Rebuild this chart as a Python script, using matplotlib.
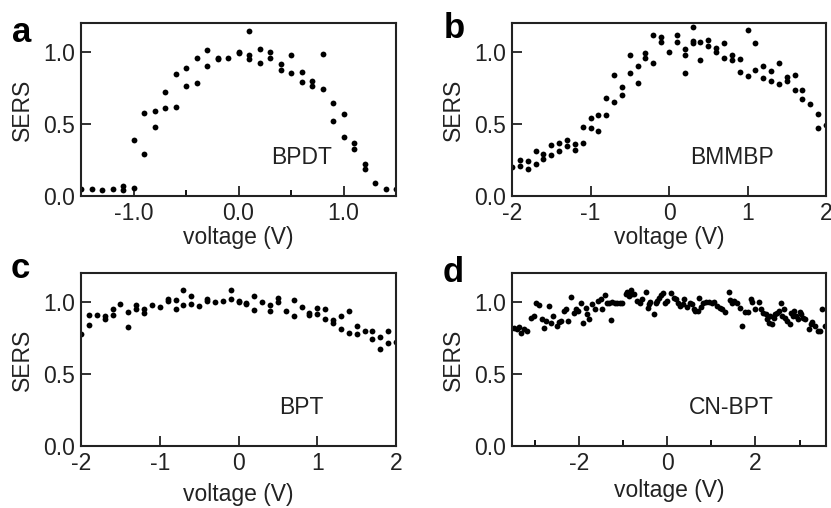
import matplotlib.pyplot as plt
import numpy as np

plt.rcParams['font.family'] = ['Liberation Sans', 'DejaVu Sans']

# panel a: BPDT
va = [-1.5, -1.4, -1.3, -1.2, -1.1, -1.1, -1.0, -1.0, -0.9, -0.9, -0.8, -0.8,
      -0.7, -0.7, -0.6, -0.6, -0.5, -0.5, -0.4, -0.4, -0.3, -0.3, -0.2, -0.2,
      -0.1, 0.0, 0.0, 0.1, 0.1, 0.1, 0.2, 0.2, 0.3, 0.3, 0.4, 0.4, 0.5, 0.5,
      0.6, 0.6, 0.7, 0.7, 0.8, 0.8, 0.9, 0.9, 1.0, 1.0, 1.1, 1.1, 1.2, 1.2,
      1.3, 1.4, 1.5]
sa = [0.05, 0.05, 0.045, 0.05, 0.07, 0.045, 0.39, 0.055, 0.575, 0.29, 0.59, 0.48,
      0.72, 0.61, 0.845, 0.62, 0.885, 0.765, 0.96, 0.785, 1.01, 0.90, 0.96, 0.947,
      0.96, 1.0, 0.995, 1.146, 0.977, 0.947, 1.023, 0.924, 1.0, 0.954, 0.919, 0.875,
      0.977, 0.854, 0.861, 0.794, 0.799, 0.764, 0.984, 0.741, 0.646, 0.521, 0.569,
      0.41, 0.37, 0.324, 0.22, 0.19, 0.093, 0.05, 0.05]

# panel b: BMMBP
vb = [-2.0, -1.9, -1.9, -1.8, -1.8, -1.7, -1.7, -1.6, -1.6, -1.5, -1.5, -1.4, -1.4,
      -1.3, -1.3, -1.2, -1.2, -1.1, -1.1, -1.0, -1.0, -0.9, -0.9, -0.8, -0.8,
      -0.7, -0.7, -0.6, -0.6, -0.5, -0.5, -0.4, -0.4, -0.3, -0.3, -0.2, -0.2,
      -0.1, -0.1, 0.0, 0.1, 0.1, 0.2, 0.2, 0.2, 0.3, 0.3, 0.3, 0.4, 0.4, 0.5, 0.5,
      0.6, 0.6, 0.7, 0.7, 0.8, 0.8, 0.9, 0.9, 1.0, 1.0, 1.1, 1.1, 1.2, 1.2,
      1.3, 1.3, 1.4, 1.4, 1.5, 1.5, 1.6, 1.6, 1.7, 1.7, 1.8, 1.9, 1.9, 2.0]
sb = [0.20, 0.25, 0.21, 0.24, 0.185, 0.31, 0.22, 0.29, 0.255, 0.354, 0.285, 0.37, 0.31,
      0.39, 0.345, 0.36, 0.32, 0.48, 0.37, 0.54, 0.47, 0.56, 0.45, 0.68, 0.56,
      0.836, 0.655, 0.757, 0.70, 0.977, 0.85, 0.903, 0.785, 0.99, 0.96, 1.116, 0.926,
      1.10, 1.067, 1.0, 1.116, 1.067, 1.023, 0.977, 0.854, 1.174, 1.072, 1.058, 1.07, 0.94,
      1.083, 1.037, 1.025, 1.0, 1.06, 0.96, 0.98, 0.94, 0.95, 0.86, 1.15, 0.83,
      1.06, 0.877, 0.90, 0.817, 0.87, 0.80, 0.924, 0.775, 0.826, 0.80, 0.84, 0.734,
      0.734, 0.676, 0.64, 0.567, 0.47, 0.493]

# panel c: BPT
vc = [-2.0, -1.9, -1.9, -1.8, -1.7, -1.7, -1.6, -1.6, -1.5, -1.4, -1.4, -1.3, -1.3,
      -1.2, -1.2, -1.1, -1.0, -0.9, -0.9, -0.8, -0.8, -0.7, -0.7, -0.6, -0.6, -0.5,
      -0.4, -0.4, -0.3, -0.2, -0.1, -0.1, 0.0, 0.0, 0.1, 0.1, 0.2, 0.2, 0.3, 0.4, 0.4,
      0.5, 0.5, 0.6, 0.7, 0.7, 0.8, 0.9, 0.9, 1.0, 1.0, 1.1, 1.1, 1.2, 1.2, 1.3, 1.3,
      1.4, 1.4, 1.5, 1.5, 1.6, 1.7, 1.7, 1.8, 1.8, 1.9, 1.9, 2.0]
sc = [0.78, 0.907, 0.837, 0.907, 0.90, 0.88, 0.95, 0.91, 0.984, 0.93, 0.826, 0.977, 0.953,
      0.953, 0.926, 0.977, 0.967, 1.02, 1.007, 1.01, 0.95, 1.084, 0.977, 1.037, 0.988, 0.972,
      1.023, 1.007, 1.0, 1.007, 1.084, 1.023, 1.007, 1.0, 0.995, 0.984, 1.04, 0.942, 1.0,
      0.977, 0.937, 1.026, 1.0, 0.937, 1.014, 0.902, 0.967, 0.92, 0.907, 0.96, 0.914,
      0.953, 0.88, 0.872, 0.851, 0.902, 0.81, 0.933, 0.786, 0.833, 0.774, 0.80, 0.80,
      0.744, 0.758, 0.674, 0.80, 0.716, 0.72]

# panel d: CN-BPT
vd = [-3.47, -3.41, -3.36, -3.31, -3.25, -3.17, -3.08, -3.02, -2.98, -2.91, -2.85, -2.79,
      -2.75, -2.68, -2.63, -2.58, -2.51, -2.45, -2.40, -2.34, -2.30, -2.26, -2.19, -2.11,
      -2.08, -2.02, -1.96, -1.90, -1.85, -1.81, -1.77, -1.70, -1.64, -1.58, -1.51, -1.47,
      -1.40, -1.36, -1.32, -1.28, -1.25, -1.19, -1.13, -1.07, -1.02, -0.94, -0.91, -0.87,
      -0.83, -0.79, -0.75, -0.68, -0.62, -0.57, -0.49, -0.44, -0.42, -0.38, -0.30, -0.26,
      -0.23, -0.19, -0.14, -0.09, -0.04, 0.00, 0.09, 0.15, 0.20, 0.24, 0.30, 0.36, 0.39,
      0.45, 0.51, 0.57, 0.60, 0.64, 0.69, 0.72, 0.77, 0.82, 0.87, 0.94, 1.02, 1.07, 1.13,
      1.19, 1.25, 1.30, 1.40, 1.43, 1.47, 1.52, 1.58, 1.65, 1.70, 1.77, 1.83, 1.89, 1.92,
      2.00, 2.08, 2.13, 2.17, 2.23, 2.26, 2.30, 2.34, 2.38, 2.42, 2.45, 2.49, 2.53, 2.57,
      2.60, 2.64, 2.68, 2.72, 2.78, 2.81, 2.85, 2.88, 2.93, 2.96, 3.00, 3.03, 3.08, 3.13,
      3.21, 3.25, 3.28, 3.36, 3.41, 3.46, 3.51, 3.58]
sd = [0.821, 0.809, 0.828, 0.786, 0.814, 0.798, 0.891, 0.902, 0.991, 0.977, 0.879, 0.821,
      0.867, 0.972, 0.856, 0.902, 0.833, 0.860, 0.867, 0.937, 0.953, 0.867, 1.035, 0.921,
      0.949, 0.937, 0.995, 0.856, 0.960, 0.914, 0.884, 0.984, 0.949, 1.007, 1.019, 0.949,
      1.047, 0.995, 0.991, 0.872, 1.0, 0.995, 0.995, 0.995, 0.995, 1.053, 1.070, 1.042,
      1.084, 1.053, 1.053, 1.007, 0.995, 1.019, 1.070, 0.960, 0.988, 1.0, 0.914, 0.995,
      1.007, 1.030, 1.047, 1.060, 0.995, 1.007, 1.058, 1.030, 1.023, 0.995, 0.972, 0.984,
      1.023, 0.967, 0.995, 0.988, 0.949, 0.937, 0.937, 1.030, 0.967, 0.991, 1.0, 1.0,
      0.991, 1.002, 0.972, 0.960, 0.949, 0.930, 1.070, 1.014, 0.995, 1.007, 0.995, 0.960,
      0.833, 0.930, 0.930, 1.019, 1.0, 0.949, 1.0, 0.949, 0.926, 0.914, 0.884, 0.856,
      0.902, 0.844, 0.891, 0.914, 0.926, 0.937, 0.995, 0.902, 0.949, 0.891, 0.867, 0.844,
      0.926, 0.902, 0.937, 0.902, 0.879, 0.930, 0.914, 0.891, 0.879, 0.814, 0.844, 0.860,
      0.833, 0.798, 0.798, 0.949, 0.833]

panels = [
    ('a', 'BPDT', va, sa, (-1.5, 1.5), [-1.0, 0.0, 1.0], [-0.5, 0.5], '{:.1f}'),
    ('b', 'BMMBP', vb, sb, (-2, 2), [-2, -1, 0, 1, 2], [], '{:.0f}'),
    ('c', 'BPT', vc, sc, (-2, 2), [-2, -1, 0, 1, 2], [], '{:.0f}'),
    ('d', 'CN-BPT', vd, sd, (-3.52, 3.6), [-2, 0, 2], [-3, -1, 1, 3], '{:.0f}'),
]

boxes = [
    [81 / 831, 312 / 508, 315 / 831, 173 / 508],
    [512 / 831, 312 / 508, 314 / 831, 173 / 508],
    [81 / 831, 62 / 508, 315 / 831, 173 / 508],
    [512 / 831, 62 / 508, 314 / 831, 173 / 508],
]
letter_pos = [(22, 32), (454, 28), (20, 268), (453, 272)]
xpads = [1, 1, 6, 3]

fig = plt.figure(figsize=(8.31, 5.08), dpi=100)

for (tag, name, v, s, xl, xt, xm, fmt), box, lp, xp in zip(panels, boxes, letter_pos, xpads):
    ax = fig.add_axes(box)
    ax.plot(v, s, 'o', color='black', markersize=4.2, markeredgewidth=0)
    ax.set_xlim(xl)
    ax.set_ylim(0, 1.2)
    ax.set_xticks(xt)
    ax.set_xticklabels([fmt.format(t) for t in xt])
    ax.set_xticks(xm, minor=True)
    ax.set_yticks([0.0, 0.5, 1.0])
    ax.set_yticklabels(['0.0', '0.5', '1.0'])
    ax.tick_params(which='major', direction='in', length=7, width=1.3,
                   labelsize=16.5, pad=4, colors='#222222')
    ax.tick_params(which='minor', direction='in', length=4, width=1.3)
    for sp in ax.spines.values():
        sp.set_linewidth(1.5)
        sp.set_color('#222222')
    ax.set_xlabel('voltage (V)', fontsize=16.5, labelpad=xp, color='#222222')
    ax.set_ylabel('SERS', fontsize=16.5, labelpad=7, color='#222222')
    ax.text(0.70, 0.22, name, transform=ax.transAxes, fontsize=16.5,
            ha='center', va='center', color='#222222')
    fig.text(lp[0] / 831, 1 - lp[1] / 508, tag, fontsize=25, fontweight='bold',
             ha='center', va='center')

fig.savefig('out.png', dpi=100)
